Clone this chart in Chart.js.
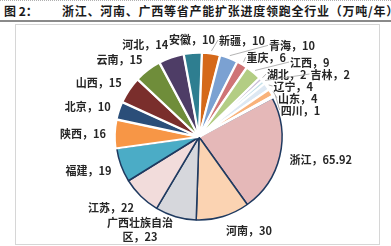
<!DOCTYPE html>
<html><head><meta charset="utf-8">
<script src="https://cdn.jsdelivr.net/npm/chart.js@4.4.1/dist/chart.umd.min.js"></script>
<style>
html,body{margin:0;padding:0;background:#fff;}
#wrap{position:relative;width:391px;height:246px;overflow:hidden;background:#fff;}
#topline{position:absolute;left:0;top:0;width:391px;height:0;border-top:1px dotted #b0b0b0;}
#title{position:absolute;left:4px;top:2px;height:18px;font:bold 12px 'Noto Sans CJK SC';color:#1a1a1a;white-space:nowrap;line-height:18px;}
#title .num{display:inline-block;width:58px;}
#title .main{letter-spacing:0.75px;}
#rule{position:absolute;left:0;top:20px;width:391px;height:0;border-top:2px solid #8a8a8a;}
#box{position:absolute;left:15px;top:24px;width:363px;height:219px;border:1px solid #d6d6d6;}
#c{position:absolute;left:0;top:0;}
</style></head>
<body><div id="wrap">
<div id="topline"></div>
<div id="title"><span class="num">图 2：</span><span class="main">浙江、河南、广西等省产能扩张进度领跑全行业（万吨/年）</span></div>
<div id="rule"></div>
<div id="box"></div>
<canvas id="c" width="391" height="246"></canvas>
</div>
<script>
// ---- data ----
const categories = ['浙江','河南','广西壮族自治区','江苏','福建','陕西','北京','山西','云南','河北','安徽','新疆','青海','重庆','江西','湖北','吉林','辽宁','山东','四川'];
const values = [65.92, 30, 23, 22, 19, 16, 10, 15, 15, 14, 10, 10, 10, 6, 9, 2, 2, 4, 4, 1];

// ---- styles ----
const sliceColors = ['#E5B8B8','#FBD3B2','#D6D7DC','#F2DCDB','#4BACC6','#F79646','#2B4E79','#7A2E2C','#6F8D3A','#4E3D66','#2E7E90','#D5691A','#7BA1D2','#CF7476','#B3CD84','#C9BEDB','#C4E1EA','#DDE8F3','#F9B27A','#254F7F'];
const darkGroup = 5; // first slices drawn with dark outline, rest exploded with white outline
const borderColors = values.map((v,i)=> i<darkGroup ? '#1F3A60' : '#FFFFFF');
const borderWidths = values.map((v,i)=> i<darkGroup ? 1.5 : 2);
const offsets = values.map((v,i)=> i<darkGroup ? 0 : 3);

const labelPlugin = {
  id: 'pieLabels',
  afterDatasetsDraw(chart) {
    const ctx = chart.ctx;
    const meta = chart.getDatasetMeta(0);
    const font = 'bold 11px "Noto Sans CJK SC"';
    ctx.save();
    ctx.font = font;
    const placed = [];
    const lineH = 14;
    const rightLimit = 352;
    const overlap = (a,b) => a.x < b.x+b.w && b.x < a.x+a.w && a.y < b.y+b.h && b.y < a.y+a.h;
    meta.data.forEach((arc, i) => {
      const p = arc.getProps(['x','y','startAngle','endAngle','outerRadius'], true);
      const mid = (p.startAngle + p.endAngle) / 2;
      const dx = Math.cos(mid), dy = Math.sin(mid);
      const d = p.outerRadius + 10;
      const ax = p.x + d*dx;
      const ay = p.y + (d+5)*dy;
      const name = categories[i];
      let lines;
      if (name.length > 6) lines = [name.slice(0,6), name.slice(6) + '，' + values[i]];
      else lines = [name + '，' + values[i]];
      const widths = lines.map(t => ctx.measureText(t).width);
      const w = Math.max(...widths);
      const h = lines.length > 1 ? lines.length*lineH : 11.5;
      let bx;
      if (dx >= 0.1) bx = ax; else if (dx <= -0.1) bx = ax - w; else bx = ax - w/2;
      let by = ay - h/2;
      by = Math.max(25, Math.min(by, 243 - h));
      const box = {x: bx, y: by, w, h};
      const ox = bx, oy = by;
      let tries = 0;
      while (tries < 40) {
        const hit = placed.find(q => overlap(q, box));
        if (!hit) break;
        if (dx > -0.1) {
          const cand = hit.x + hit.w + 4;
          if (cand + w <= rightLimit && cand > box.x) { box.x = cand; }
          else { box.x = ox; box.y = hit.y + hit.h + 0.5; }
        } else {
          box.y = hit.y - h - 0.5;
        }
        tries++;
      }
      placed.push(box);
      // leader line when moved
      if (Math.abs(box.x-ox) > 2 || Math.abs(box.y-oy) > 2) {
        const r0 = p.outerRadius + (offsets[i]||0) + 1;
        const sx = p.x + r0*dx, sy = p.y + r0*dy;
        const ex = dx >= 0 ? box.x - 1 : box.x + box.w + 1;
        const ey = box.y + box.h/2;
        ctx.strokeStyle = '#a0a0a0';
        ctx.lineWidth = 0.8;
        ctx.beginPath(); ctx.moveTo(sx, sy); ctx.lineTo(ex, ey); ctx.stroke();
      }
      ctx.fillStyle = '#262626';
      ctx.textAlign = 'center';
      ctx.textBaseline = 'middle';
      lines.forEach((t, k) => {
        const cy = lines.length > 1 ? box.y + lineH*(k+0.5) : box.y + box.h/2;
        ctx.fillText(t, box.x + box.w/2, cy + 0.5);
      });
    });
    ctx.restore();
  }
};

new Chart(document.getElementById('c'), {
  type: 'pie',
  data: {
    labels: categories,
    datasets: [{
      data: values,
      backgroundColor: sliceColors,
      borderColor: borderColors,
      borderWidth: borderWidths,
      offset: offsets,
      hoverOffset: 0
    }]
  },
  options: {
    responsive: false,
    animation: false,
    events: [],
    rotation: 62,
    radius: 83,
    layout: { padding: { left: 99, right: 92, top: 37, bottom: 9 } },
    plugins: { legend: { display: false }, title: { display: false }, tooltip: { enabled: false } }
  },
  plugins: [labelPlugin]
});
</script>
</body></html>
